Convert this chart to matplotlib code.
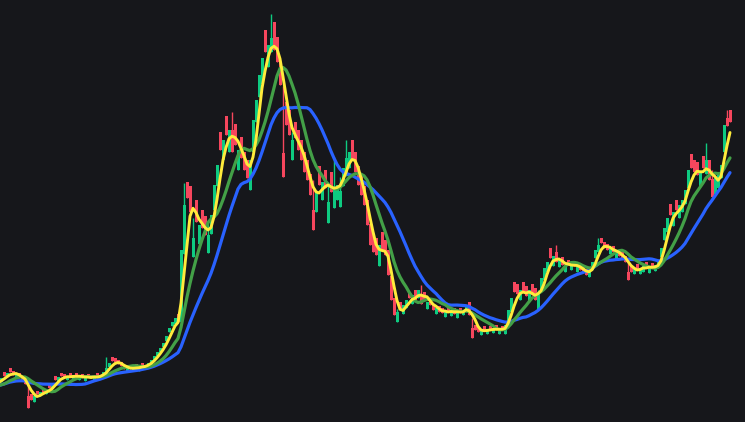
import numpy as np
import pandas as pd
import matplotlib
matplotlib.use("Agg")
import matplotlib.pyplot as plt

# Candle closes (chart units), one candle every 3 units of time, first candle at t=-23
closes = [34, 32, 35, 33, 36, 38, 40, 42,
          44, 46, 49, 50, 47, 48, 44, 42, 38, 26, 22, 26, 28, 30, 29, 32, 34, 38, 42, 45,
          46, 44, 46, 45, 47, 45, 46, 44, 45, 45, 44, 46, 45, 47, 50, 54, 59, 61, 60, 58,
          56, 53, 54, 53, 55, 54, 55, 56, 57, 59, 62, 66, 70, 74, 79, 86, 94, 100, 104, 100,
          172, 217, 224, 210, 204, 200, 197, 194, 187, 190, 207, 237, 257, 272, 282, 287, 292, 282,
          277, 272, 264, 252, 244, 262, 302, 322, 347, 364, 370, 377, 384, 372, 360, 337, 312, 297,
          287, 282, 284, 272, 262, 250, 242, 227, 222, 230, 237, 240, 234, 237, 230, 234, 237, 244,
          254, 264, 270, 262, 250, 237, 227, 217, 197, 177, 170, 167, 177, 172, 167, 147, 122, 107,
          110, 112, 117, 122, 124, 127, 122, 132, 127, 122, 120, 117, 112, 114, 110, 109, 111, 110,
          112, 108, 111, 109, 112, 117, 107, 94, 92, 90, 92, 91, 93, 92, 94, 92, 93, 92,
          97, 112, 124, 130, 128, 132, 130, 126, 132, 127, 122, 132, 144, 154, 160, 164, 166, 160,
          162, 157, 156, 157, 158, 156, 155, 152, 150, 147, 152, 160, 172, 177, 179, 174, 172, 174,
          170, 169, 166, 164, 160, 152, 150, 154, 152, 154, 156, 154, 155, 154, 157, 160, 174, 194,
          204, 207, 210, 212, 217, 222, 232, 252, 254, 250, 247, 250, 254, 262, 242, 234, 244, 247,
          257, 297, 304, 300]

# Candle opens
opens = [31, 36, 31, 37, 33, 35, 44, 39,
         40, 50, 45, 54, 51, 44, 49, 46, 43, 38, 28, 20, 31, 26, 34, 28, 37, 34, 46, 41,
         49, 48, 42, 49, 43, 49, 42, 48, 41, 48, 47, 42, 49, 43, 46, 50, 55, 65, 64, 62,
         60, 57, 50, 57, 51, 58, 51, 59, 53, 55, 58, 62, 66, 70, 75, 81, 90, 96, 98, 108,
         100, 168, 240, 236, 185, 222, 178, 212, 206, 172, 188, 212, 236, 290, 262, 306, 270, 304,
         298, 252, 285, 270, 262, 232, 270, 300, 325, 338, 392, 355, 370, 400, 385, 360, 336, 320,
         312, 262, 300, 292, 282, 270, 262, 248, 242, 210, 256, 222, 252, 216, 250, 214, 222, 228,
         236, 246, 254, 282, 270, 256, 246, 236, 222, 198, 188, 184, 156, 190, 182, 172, 146, 124,
         100, 120, 108, 114, 130, 118, 132, 124, 136, 130, 113, 124, 118, 108, 116, 114, 105, 115,
         106, 114, 104, 114, 107, 110, 120, 104, 97, 95, 87, 96, 88, 96, 89, 97, 88, 96,
         88, 98, 110, 140, 138, 122, 140, 136, 120, 138, 134, 116, 130, 142, 150, 174, 156, 170,
         155, 165, 150, 162, 152, 161, 150, 158, 156, 153, 145, 152, 164, 170, 184, 180, 178, 168,
         176, 163, 172, 170, 166, 160, 156, 148, 158, 148, 150, 160, 149, 159, 151, 154, 165, 182,
         190, 218, 196, 222, 204, 210, 218, 234, 268, 262, 260, 236, 266, 248, 262, 252, 228, 234,
         244, 270, 312, 312]

# Notable wick extremes beyond the bodies
wick_times = [28, 271, 283, 313, 184, 706, 712, 727, 346, 397, 472, 232, 193, 208,
              292, 328, 340, 334, 421, 538, 556, 598, 628, 106]
wick_highs = [30, 408, 320, 240, 239, 279, 246, 312, 282, 113, 97, 310, 200, 200,
              290, 240, 245, 265, 137, 132, 177, 184, 156, 65]
wick_lows = [14, 370, 245, 192, 210, 250, 225, 296, 262, 100, 84, 270, 165, 169,
             267, 199, 215, 225, 118, 112, 160, 170, 142, 58]

# Moving-average periods (in candles)
ma_fast, ma_mid, ma_slow = 4, 10, 20

BG = "#16171b"
UP = "#0ecb81"
DN = "#f6465d"

c = np.array(closes, dtype=float)
o = np.array(opens, dtype=float)
t = -23 + 3 * np.arange(len(c))
hi = np.maximum(o, c)
lo = np.minimum(o, c)
for tt, h, l in zip(wick_times, wick_highs, wick_lows):
    idx = np.argmin(np.abs(t - tt))
    hi[idx] = max(hi[idx], h)
    lo[idx] = min(lo[idx], l)

s = pd.Series(c)
ma1 = s.rolling(ma_fast, min_periods=1).mean()
ma2 = s.rolling(ma_mid, min_periods=1).mean()
ma3 = s.rolling(ma_slow, min_periods=1).mean()

fig = plt.figure(figsize=(7.45, 4.22), dpi=100, facecolor=BG)
ax = fig.add_axes([0, 0, 1, 1])
ax.set_facecolor(BG)

colors = np.where(c >= o, UP, DN)
ax.vlines(t, lo, hi, colors=colors, linewidth=1.0, zorder=2)
height = np.maximum(np.abs(c - o), 1.5)
ax.bar(t, height, bottom=lo, width=3.0, color=colors, linewidth=0, zorder=2)

ax.plot(t, ma3, color="#2962ff", linewidth=2.3, zorder=3, solid_capstyle="round")
ax.plot(t, ma2, color="#43a047", linewidth=2.3, zorder=4, solid_capstyle="round")
ax.plot(t, ma1, color="#ffeb3b", linewidth=2.1, zorder=5, solid_capstyle="round")

ax.set_xlim(0, 745)
ax.set_ylim(0, 422)
ax.axis("off")

fig.savefig("out.png", dpi=100, facecolor=BG)
